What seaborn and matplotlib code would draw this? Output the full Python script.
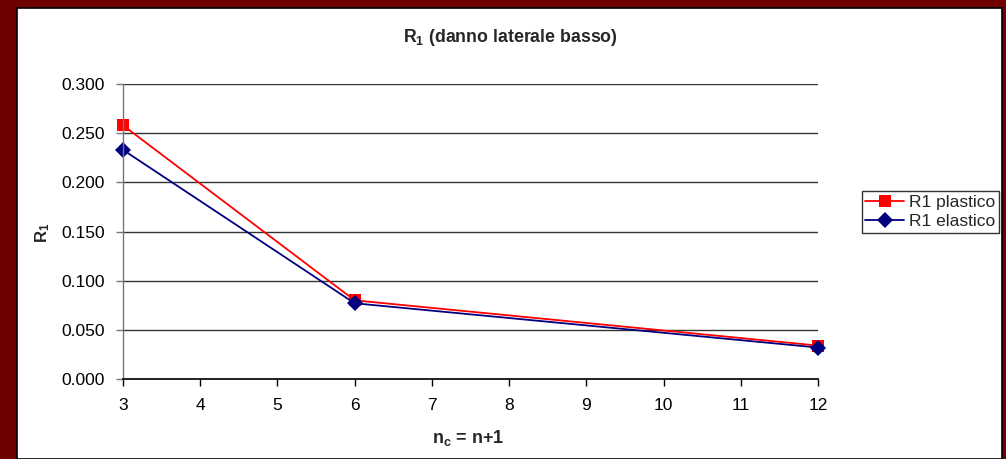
import numpy as np
import pandas as pd
import matplotlib
matplotlib.use('Agg')
import matplotlib.pyplot as plt
import seaborn as sns
from matplotlib.patches import Rectangle

# dati
n_c = [3, 6, 12]
r1_plastico = [0.258, 0.080, 0.034]
r1_elastico = [0.233, 0.077, 0.032]
serie = ['R1 plastico', 'R1 elastico']

df = pd.DataFrame({
    'n_c': n_c * 2,
    'R1': r1_plastico + r1_elastico,
    'serie': [serie[0]] * len(n_c) + [serie[1]] * len(n_c),
})

sns.set_theme(style='white')
plt.rcParams['font.family'] = ['Liberation Sans', 'DejaVu Sans']
plt.rcParams['mathtext.fontset'] = 'custom'
plt.rcParams['mathtext.rm'] = 'Liberation Sans'
plt.rcParams['mathtext.bf'] = 'Liberation Sans:bold'

fig = plt.figure(figsize=(10.06, 4.59), dpi=100, facecolor='#6f0000')
# riquadro bianco interno
fig.patches.append(Rectangle((17 / 1006, 0), (1002 - 17) / 1006, 1 - 8 / 459,
                             transform=fig.transFigure, facecolor='white',
                             edgecolor='black', linewidth=1.2, zorder=-10))

ax = fig.add_axes([123 / 1006, 1 - 379 / 459, (818 - 123) / 1006, (379 - 84) / 459])
ax.set_facecolor('white')

sns.lineplot(data=df, x='n_c', y='R1', hue='serie', style='serie',
             hue_order=serie, style_order=serie,
             palette={'R1 plastico': '#ff0000', 'R1 elastico': '#000080'},
             markers={'R1 plastico': 's', 'R1 elastico': 'D'}, dashes=False,
             markersize=8, markeredgewidth=0, linewidth=1.3, ax=ax)
for line in ax.lines:
    line.set_clip_on(False)

ax.set_xlim(3, 12)
ax.set_ylim(0, 0.3)
ax.set_xticks(range(3, 13))
ax.set_yticks(np.arange(0, 0.301, 0.05))
ax.set_yticklabels([f'{v:.3f}' for v in np.arange(0, 0.301, 0.05)])
ax.yaxis.grid(True, color='#333333', linewidth=1)
ax.xaxis.grid(False)
ax.set_axisbelow(True)

for s in ['top', 'right']:
    ax.spines[s].set_visible(False)
ax.spines['left'].set_color('#777777')
ax.spines['bottom'].set_color('black')
ax.spines['left'].set_linewidth(1)
ax.spines['bottom'].set_linewidth(1.2)
ax.tick_params(axis='both', direction='out', length=5, width=1, colors='black',
               labelsize=12.5, bottom=True, left=True)
ax.tick_params(axis='x', pad=9)
ax.tick_params(axis='y', pad=8, color='#777777', labelcolor='black')

ax.set_xlabel('')
ax.set_ylabel('')
fig.text(510 / 1006, 1 - 37 / 459, r'$\mathbf{R_1}$ (danno laterale basso)',
         ha='center', va='center', fontsize=12.8, fontweight='bold')
fig.text(43 / 1006, 1 - 233 / 459, r'$\mathbf{R_1}$', rotation=90,
         ha='center', va='center', fontsize=12, fontweight='bold')
fig.text(468 / 1006, 1 - 438 / 459, r'$\mathbf{n_c}$ = n+1',
         ha='center', va='center', fontsize=13, fontweight='bold')

leg = ax.legend(loc='upper left', bbox_to_anchor=(862 / 1006, 1 - 191 / 459),
                bbox_transform=fig.transFigure, frameon=True, fancybox=False,
                fontsize=12.5, handlelength=2.2, handletextpad=0.3,
                borderpad=0.2, labelspacing=0.25, borderaxespad=0)
leg.get_frame().set_edgecolor('black')
leg.get_frame().set_linewidth(1)

fig.savefig('out.png', dpi=100, facecolor=fig.get_facecolor())
